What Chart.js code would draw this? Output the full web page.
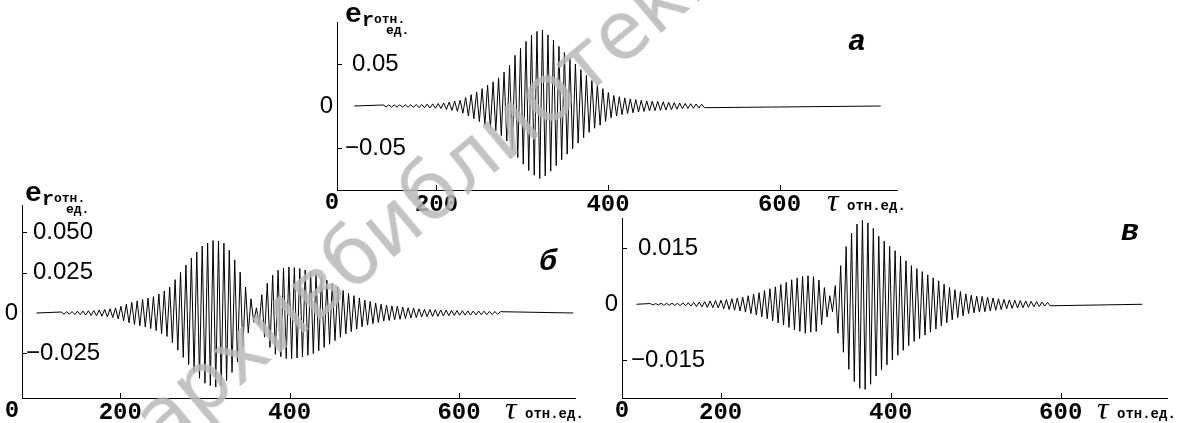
<!DOCTYPE html>
<html lang="ru">
<head>
<meta charset="utf-8">
<title>e_r(τ)</title>
<script src="https://cdn.jsdelivr.net/npm/chart.js@4.4.1/dist/chart.umd.min.js"></script>
<style>
    html, body { margin: 0; padding: 0; background: #fff; }
    #page { position: relative; width: 1180px; height: 423px; overflow: hidden; }
    .panel { position: absolute; }
    #watermark {
        position: absolute; left: 170px; top: 382px;
        font-family: "DejaVu Sans"; font-size: 80px; line-height: 80px;
        color: rgba(185, 185, 185, 0.85); white-space: nowrap;
        transform-origin: 0 100%; transform: rotate(-40deg);
        pointer-events: none;
    }
</style>
</head>
<body>
<div id="page">
    <canvas id="chart-a" class="panel" width="640" height="225" style="left:300px;top:0"></canvas>
    <canvas id="chart-b" class="panel" width="620" height="245" style="left:0;top:178px"></canvas>
    <canvas id="chart-v" class="panel" width="595" height="228" style="left:585px;top:195px"></canvas>
    <div id="watermark">архивбиблиотеки</div>
</div>
<script>
// Ось τ (отн. ед.)
const xTicks = [200, 400, 600];
const xTickLabels = ['200', '400', '600'];
const halfPeriod = 3.2; // шаг между соседними экстремумами

// Ось e_r для каждого графика
const yTicksA = [-0.05, 0, 0.05];
const yLabelsA = ['−0.05', '0', '0.05'];
const yTicksB = [-0.025, 0, 0.025, 0.05];
const yLabelsB = ['−0.025', '0', '0.025', '0.050'];
const yTicksV = [-0.015, 0, 0.015];
const yLabelsV = ['−0.015', '0', '0.015'];

// а: экстремумы начиная с τ = 138
const startA = 138.0;
const flatA = [104, 718];
const waveA = [
    0.0012, -0.0012, 0.0013, -0.0013, 0.0013, -0.0014, 0.0014, -0.0014, 0.0015, -0.0015,
    0.0016, -0.0017, 0.0018, -0.0019, 0.0019, -0.0020, 0.0022, -0.0024, 0.0025, -0.0027,
    0.0029, -0.0030, 0.0036, -0.0041, 0.0047, -0.0053, 0.0058, -0.0064, 0.0069, -0.0085,
    0.0101, -0.0118, 0.0135, -0.0152, 0.0168, -0.0186, 0.0207, -0.0227, 0.0247, -0.0268,
    0.0288, -0.0294, 0.0335, -0.0352, 0.0404, -0.0417, 0.0483, -0.0515, 0.0603, -0.0614,
    0.0687, -0.0692, 0.0769, -0.0769, 0.0845, -0.0824, 0.0888, -0.0864, 0.0905, -0.0832,
    0.0846, -0.0776, 0.0784, -0.0710, 0.0710, -0.0639, 0.0637, -0.0573, 0.0568, -0.0507,
    0.0500, -0.0443, 0.0432, -0.0378, 0.0364, -0.0314, 0.0303, -0.0264, 0.0254, -0.0229,
    0.0206, -0.0184, 0.0162, -0.0140, 0.0126, -0.0118, 0.0111, -0.0103, 0.0096, -0.0089,
    0.0085, -0.0081, 0.0077, -0.0072, 0.0068, -0.0064, 0.0060, -0.0058, 0.0057, -0.0055,
    0.0054, -0.0052, 0.0050, -0.0048, 0.0045, -0.0043, 0.0040, -0.0038, 0.0035, -0.0033,
    0.0030, -0.0029, 0.0027, -0.0026, 0.0024, -0.0023, 0.0021, -0.0020
];

// б: два пакета, начиная с τ = 130.4
const startB = 130.4;
const flatB = [101, 735];
const waveB = [
    0.0006, -0.0007, 0.0008, -0.0008, 0.0009, -0.0010, 0.0011, -0.0011, 0.0012, -0.0013,
    0.0014, -0.0015, 0.0015, -0.0017, 0.0019, -0.0020, 0.0022, -0.0024, 0.0026, -0.0028,
    0.0031, -0.0037, 0.0042, -0.0048, 0.0054, -0.0060, 0.0066, -0.0071, 0.0075, -0.0079,
    0.0083, -0.0087, 0.0092, -0.0096, 0.0101, -0.0109, 0.0118, -0.0127, 0.0136, -0.0145,
    0.0160, -0.0183, 0.0206, -0.0229, 0.0251, -0.0274, 0.0296, -0.0318, 0.0340, -0.0365,
    0.0377, -0.0403, 0.0413, -0.0434, 0.0432, -0.0448, 0.0447, -0.0457, 0.0445, -0.0451,
    0.0431, -0.0417, 0.0388, -0.0367, 0.0328, -0.0302, 0.0252, -0.0210, 0.0160, -0.0124,
    0.0088, -0.0057, 0.0032, -0.0072, 0.0113, -0.0149, 0.0184, -0.0212, 0.0233, -0.0255,
    0.0264, -0.0270, 0.0276, -0.0281, 0.0284, -0.0282, 0.0280, -0.0278, 0.0275, -0.0270,
    0.0266, -0.0261, 0.0256, -0.0251, 0.0243, -0.0233, 0.0223, -0.0213, 0.0203, -0.0193,
    0.0182, -0.0171, 0.0161, -0.0150, 0.0139, -0.0129, 0.0122, -0.0115, 0.0107, -0.0100,
    0.0093, -0.0085, 0.0079, -0.0075, 0.0071, -0.0066, 0.0062, -0.0058, 0.0054, -0.0050,
    0.0048, -0.0046, 0.0044, -0.0042, 0.0041, -0.0039, 0.0037, -0.0035, 0.0033, -0.0031,
    0.0030, -0.0028, 0.0026, -0.0024, 0.0023, -0.0023, 0.0022, -0.0021, 0.0020, -0.0020,
    0.0019, -0.0018, 0.0018, -0.0017, 0.0016, -0.0015, 0.0015, -0.0014, 0.0014, -0.0013,
    0.0013, -0.0013, 0.0012, -0.0012, 0.0012, -0.0011, 0.0011, -0.0010, 0.0010, -0.0010,
    0.0009, -0.0009, 0.0008
];

// в: малый пакет и основной, начиная с τ = 117.2
const startV = 117.2;
const flatV = [101, 696];
const waveV = [
    0.0002, -0.0002, 0.0002, -0.0002, 0.0003, -0.0003, 0.0003, -0.0003, 0.0003, -0.0003,
    0.0003, -0.0004, 0.0004, -0.0004, 0.0004, -0.0005, 0.0005, -0.0006, 0.0006, -0.0007,
    0.0007, -0.0008, 0.0009, -0.0009, 0.0010, -0.0010, 0.0011, -0.0012, 0.0013, -0.0014,
    0.0015, -0.0016, 0.0017, -0.0018, 0.0019, -0.0021, 0.0023, -0.0025, 0.0027, -0.0029,
    0.0031, -0.0034, 0.0037, -0.0039, 0.0042, -0.0044, 0.0047, -0.0050, 0.0053, -0.0056,
    0.0059, -0.0062, 0.0066, -0.0069, 0.0071, -0.0073, 0.0075, -0.0078, 0.0077, -0.0075,
    0.0074, -0.0073, 0.0065, -0.0055, 0.0045, -0.0034, 0.0023, -0.0020, 0.0050, -0.0078,
    0.0104, -0.0129, 0.0155, -0.0175, 0.0191, -0.0208, 0.0216, -0.0226, 0.0226, -0.0229,
    0.0219, -0.0215, 0.0204, -0.0193, 0.0183, -0.0176, 0.0170, -0.0163, 0.0156, -0.0150,
    0.0144, -0.0137, 0.0130, -0.0124, 0.0117, -0.0111, 0.0104, -0.0100, 0.0096, -0.0092,
    0.0088, -0.0083, 0.0079, -0.0075, 0.0071, -0.0067, 0.0063, -0.0058, 0.0054, -0.0050,
    0.0045, -0.0042, 0.0039, -0.0036, 0.0034, -0.0031, 0.0028, -0.0025, 0.0024, -0.0023,
    0.0022, -0.0021, 0.0021, -0.0020, 0.0019, -0.0018, 0.0017, -0.0016, 0.0015, -0.0014,
    0.0013, -0.0012, 0.0012, -0.0011, 0.0011, -0.0010, 0.0010, -0.0009, 0.0009, -0.0008,
    0.0008, -0.0007, 0.0007, -0.0006, 0.0006, -0.0005, 0.0005, -0.0004
];

const xFont = { family: 'Liberation Mono', size: 24, weight: 'bold' };
const yFont = { family: 'Liberation Sans', size: 24 };

// Собираем точки линии: нулевой участок, экстремумы, нулевой участок
function buildSeries(start, values, flat) {
    const points = [{ x: flat[0], y: 0 }];
    values.forEach(function(v, i) {
        points.push({ x: start + i * halfPeriod, y: v });
    });
    points.push({ x: flat[1], y: 0 });
    return points;
}

// Подписи, которых нет у Chart.js: «0» в углу, τ отн.ед., буква панели, e_r
const decorPlugin = {
    id: 'decor',
    afterDraw(chart, args, opts) {
        const { ctx, chartArea, scales } = chart;
        const xs = scales.x, ys = scales.y;
        ctx.save();
        ctx.strokeStyle = '#000';
        ctx.lineWidth = 1;

        // короткие штрихи внутрь
        ctx.beginPath();
        xs.ticks.forEach(function(t) {
            const px = Math.round(xs.getPixelForValue(t.value)) + 0.5;
            ctx.moveTo(px, chartArea.bottom);
            ctx.lineTo(px, chartArea.bottom - 5);
        });
        ys.ticks.forEach(function(t) {
            if (t.value === 0) return;
            const py = Math.round(ys.getPixelForValue(t.value)) + 0.5;
            ctx.moveTo(chartArea.left, py);
            ctx.lineTo(chartArea.left + 5, py);
        });
        ctx.stroke();

        ctx.fillStyle = '#000';
        ctx.font = '24px "Liberation Sans"';
        ctx.textAlign = 'right';
        ctx.textBaseline = 'middle';
        ctx.fillText(opts.yZero, chartArea.left - 4, ys.getPixelForValue(0));

        ctx.font = 'bold 24px "Liberation Mono"';
        ctx.textAlign = 'center';
        ctx.textBaseline = 'top';
        ctx.fillText('0', chartArea.left + opts.zeroShift, chartArea.bottom + 1);

        ctx.textAlign = 'left';
        ctx.textBaseline = 'alphabetic';
        ctx.font = 'italic 32px "Liberation Serif"';
        ctx.fillText('τ', chartArea.right - 70, chartArea.bottom + 21);
        ctx.font = 'bold 14px "Liberation Mono"';
        ctx.fillText('отн.ед.', chartArea.right - 50, chartArea.bottom + 20);

        ctx.font = 'bold italic 30px "Liberation Mono"';
        ctx.textAlign = 'center';
        ctx.textBaseline = 'middle';
        ctx.fillText(opts.letter, chartArea.right + opts.letterDx, chartArea.top + opts.letterDy);

        if (opts.title) {
            const bx = chartArea.left + opts.title[0];
            const by = chartArea.top + opts.title[1];
            ctx.textAlign = 'left';
            ctx.textBaseline = 'alphabetic';
            ctx.font = 'bold 28px "Liberation Mono"';
            ctx.fillText('e', bx, by);
            ctx.font = 'bold 20px "Liberation Mono"';
            ctx.fillText('r', bx + 17, by + 4);
            ctx.font = 'bold 13px "Liberation Mono"';
            ctx.fillText('отн.', bx + 29, by + 1);
            ctx.fillText('ед.', bx + 41, by + 12);
        }
        ctx.restore();
    }
};

function makeChart(id, cfg) {
    return new Chart(document.getElementById(id), {
        type: 'line',
        data: {
            datasets: [{
                data: cfg.points,
                borderColor: '#000',
                borderWidth: 1,
                pointRadius: 0,
                tension: 0,
                fill: false
            }]
        },
        options: {
            responsive: false,
            animation: false,
            layout: { padding: cfg.padding },
            plugins: {
                legend: { display: false },
                tooltip: { enabled: false },
                decor: cfg.decor
            },
            scales: {
                x: {
                    type: 'linear',
                    min: cfg.xRange[0],
                    max: cfg.xRange[1],
                    grid: { display: false, drawTicks: false },
                    border: { color: '#000', width: 1 },
                    ticks: {
                        font: xFont,
                        color: '#000',
                        padding: 1,
                        maxRotation: 0,
                        autoSkip: false,
                        callback: function(value, index) { return xTickLabels[index]; }
                    },
                    afterBuildTicks: function(scale) {
                        scale.ticks = xTicks.map(function(v) { return { value: v }; });
                    },
                    afterFit: function(scale) {
                        scale.height = cfg.xAxisHeight;
                        scale.paddingLeft = 0;
                        scale.paddingRight = 0;
                    }
                },
                y: {
                    type: 'linear',
                    min: cfg.yRange[0],
                    max: cfg.yRange[1],
                    grid: { display: false, drawTicks: false },
                    border: { color: '#000', width: 1 },
                    ticks: {
                        mirror: true,
                        crossAlign: 'center',
                        padding: cfg.yPad,
                        font: yFont,
                        color: '#000',
                        autoSkip: false,
                        callback: function(value, index) {
                            return cfg.yTicks[index] === 0 ? '' : cfg.yLabels[index];
                        }
                    },
                    afterBuildTicks: function(scale) {
                        scale.ticks = cfg.yTicks.map(function(v) { return { value: v }; });
                    },
                    afterFit: function(scale) {
                        scale.width = 0;
                        scale.paddingTop = 0;
                        scale.paddingBottom = 0;
                    }
                }
            }
        },
        plugins: [decorPlugin]
    });
}

makeChart('chart-a', {
    points: buildSeries(startA, waveA, flatA),
    xRange: [84, 737],
    yRange: [-0.1, 0.1],
    yTicks: yTicksA,
    yLabels: yLabelsA,
    yPad: 8,
    padding: { left: 37, top: 22, right: 43, bottom: 5 },
    xAxisHeight: 30,
    decor: { yZero: yLabelsA[1], zeroShift: -5, letter: 'а', letterDx: -40, letterDy: 20, title: [8, 0] }
});

makeChart('chart-b', {
    points: buildSeries(startB, waveB, flatB),
    xRange: [84, 737],
    yRange: [-0.0525, 0.0667],
    yTicks: yTicksB,
    yLabels: yLabelsB,
    yPad: 4,
    padding: { left: 22, top: 27, right: 45, bottom: 0 },
    xAxisHeight: 25,
    decor: { yZero: yLabelsB[1], zeroShift: -10, letter: 'б', letterDx: -27, letterDy: 57, title: [3, -4] }
});

makeChart('chart-v', {
    points: buildSeries(startV, waveV, flatV),
    xRange: [84, 725],
    yRange: [-0.0252, 0.0232],
    yTicks: yTicksV,
    yLabels: yLabelsV,
    yPad: 9,
    padding: { left: 37, top: 23, right: 13, bottom: 0 },
    xAxisHeight: 25,
    decor: { yZero: yLabelsV[1], zeroShift: 0, letter: 'в', letterDx: -37, letterDy: 14, title: null }
});
</script>
</body>
</html>
